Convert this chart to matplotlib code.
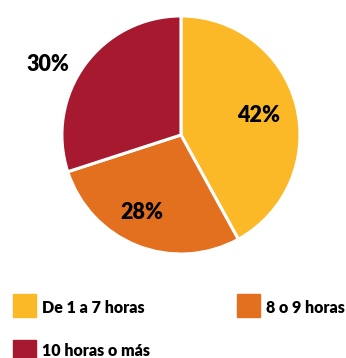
import numpy as np
import matplotlib.pyplot as plt
from matplotlib.patches import Rectangle

# horas de sueño, reparto en porcentaje
categories = ["De 1 a 7 horas", "8 o 9 horas", "10 horas o más"]
values = [42, 28, 30]
colors = ["#FBB927", "#E3701F", "#A6192E"]

plt.rcParams["font.family"] = ["Lato", "DejaVu Sans"]
plt.rcParams["font.weight"] = "bold"

fig = plt.figure(figsize=(3.46, 3.58), dpi=100)
ax = fig.add_axes([0.179, 0.2905, 0.688, 0.665])

wedges, _ = ax.pie(
    values,
    colors=colors,
    startangle=90,
    counterclock=False,
    wedgeprops=dict(edgecolor="white", linewidth=2.2),
)
ax.set_xlim(-1, 1)
ax.set_ylim(-1, 1)
ax.set_aspect("equal")

# etiquetas: radio y giro extra de cada una
label_r = [0.67, 0.73, 1.27]
label_shift = [0, -5, 8]
for w, v, r, s in zip(wedges, values, label_r, label_shift):
    ang = np.deg2rad((w.theta1 + w.theta2) / 2 + s)
    ax.text(r * np.cos(ang), r * np.sin(ang), f"{v}%",
            ha="center", va="center", fontsize=15.5, fontweight="heavy")

# leyenda a mano: esquina del cuadro y línea base del texto, en píxeles
pos = [(13, 294, 313), (237, 294, 313), (13, 340, 356.5)]
W, H = fig.get_size_inches() * fig.dpi
for (x, y, base), lab, c in zip(pos, categories, colors):
    fig.patches.append(Rectangle((x / W, 1 - (y + 23) / H), 23 / W, 23 / H,
                                 transform=fig.transFigure, color=c))
    fig.text((x + 29) / W, 1 - base / H, lab, ha="left", va="baseline",
             fontsize=11.5, fontweight="heavy")

fig.savefig("out.png", dpi=100)
